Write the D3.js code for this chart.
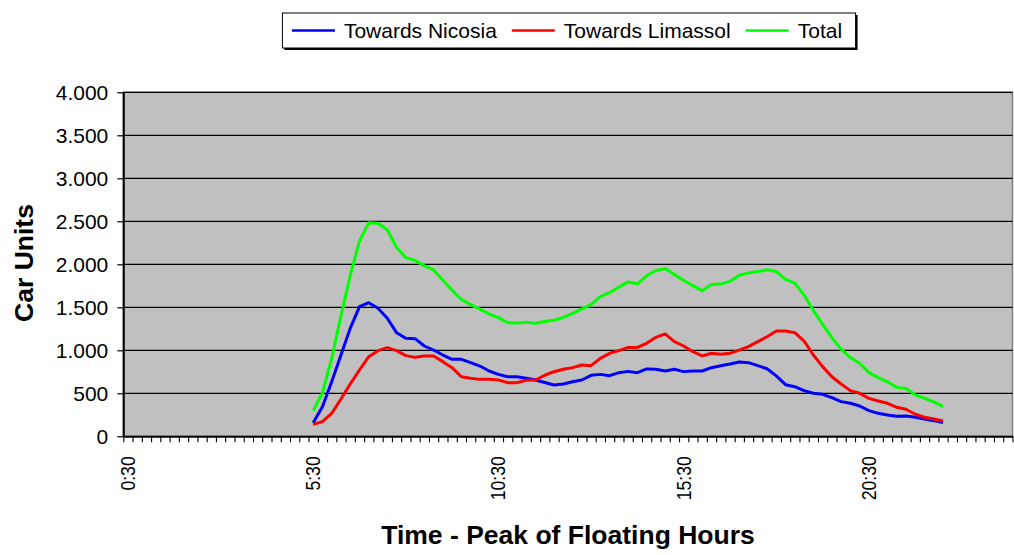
<!DOCTYPE html>
<html>
<head>
<meta charset="utf-8">
<script src="https://cdn.jsdelivr.net/npm/d3@7/dist/d3.min.js"></script>
<style>
  html, body { margin: 0; padding: 0; background: #fff; }
  svg { display: block; font-family: "Liberation Sans", Arial, sans-serif; }
</style>
</head>
<body>
<svg id="chart" width="1014" height="555"></svg>
<script>
// Quarter-hour categories of the day, 0:30 through 24:15
const timeCategories = [];
for (let m = 30; m < 24 * 60 + 30; m += 15) {
  timeCategories.push(Math.floor(m / 60) + ":" + String(m % 60).padStart(2, "0"));
}
const xTickLabels = ["0:30", "5:30", "10:30", "15:30", "20:30"];
const yTickValues = [0, 500, 1000, 1500, 2000, 2500, 3000, 3500, 4000];
const yTickLabels = ["0", "500", "1.000", "1.500", "2.000", "2.500", "3.000", "3.500", "4.000"];

// Measurements run from 5:30 to 22:30 every 15 minutes
const firstSample = "5:30";

const towardsNicosia = [
  158, 344, 635, 945, 1255, 1507, 1554, 1488, 1372, 1205,
  1139, 1135, 1050, 1003, 945, 895, 895, 856, 817, 759,
  720, 693, 693, 674, 655, 625, 596, 608, 635, 655,
  709, 720, 705, 740, 755, 740, 783, 779, 759, 779,
  752, 759, 759, 798, 821, 841, 864, 856, 821, 785,
  703, 600, 577, 531, 500, 488, 449, 403, 384, 352,
  298, 267, 248, 232, 236, 221, 201, 182, 159
];
const towardsLimassol = [
  139, 170, 267, 434, 608, 771, 926, 996, 1031, 996,
  938, 918, 934, 934, 868, 798, 693, 674, 662, 662,
  655, 624, 624, 651, 655, 710, 751, 779, 798, 829,
  821, 906, 965, 996, 1034, 1034, 1081, 1151, 1190, 1101,
  1050, 984, 934, 965, 953, 965, 1003, 1042, 1101, 1158,
  1224, 1224, 1205, 1108, 945, 810, 693, 608, 531, 500,
  441, 411, 384, 337, 314, 256, 221, 202, 178
];
const total = [
  298, 507, 906, 1400, 1870, 2270, 2484, 2478, 2400, 2195,
  2077, 2045, 1982, 1935, 1815, 1698, 1590, 1532, 1478, 1422,
  1380, 1320, 1318, 1325, 1315, 1335, 1350, 1383, 1430, 1482,
  1532, 1624, 1670, 1735, 1795, 1772, 1866, 1928, 1950, 1882,
  1812, 1752, 1693, 1765, 1770, 1802, 1872, 1900, 1916, 1936,
  1916, 1825, 1780, 1642, 1462, 1302, 1148, 1011, 916, 850,
  740, 682, 634, 569, 555, 482, 440, 400, 345
];

const seriesNames = ["Towards Nicosia", "Towards Limassol", "Total"];
const seriesColors = ["#0000ff", "#ff0000", "#00ff00"];
const seriesValues = [towardsNicosia, towardsLimassol, total];

const svg = d3.select("#chart");
const plot = { left: 123.3, right: 1012.5, top: 92.3, bottom: 436.3 };

const x = d3.scaleBand().domain(timeCategories).range([plot.left, plot.right]).padding(0);
const xIndex = d3.scaleLinear().domain([0, timeCategories.length]).range([plot.left, plot.right]);
const y = d3.scaleLinear().domain([0, 4000]).range([plot.bottom, plot.top]);

const startIdx = timeCategories.indexOf(firstSample);
const sampleTimes = timeCategories.slice(startIdx, startIdx + total.length);

// Plot area background
svg.append("rect")
  .attr("x", plot.left).attr("y", plot.top)
  .attr("width", plot.right - plot.left).attr("height", plot.bottom - plot.top)
  .attr("fill", "#c0c0c0").attr("stroke", "#808080").attr("stroke-width", 1.5);

// Horizontal gridlines
svg.append("g").selectAll("line")
  .data(yTickValues.filter(v => v > 0))
  .join("line")
  .attr("x1", plot.left).attr("x2", plot.right)
  .attr("y1", d => y(d)).attr("y2", d => y(d))
  .attr("stroke", "#000").attr("stroke-width", 1.3);

// Y axis
const yAxis = svg.append("g")
  .attr("transform", `translate(${plot.left},0)`)
  .call(d3.axisLeft(y).tickValues(yTickValues)
    .tickFormat((d, i) => yTickLabels[i]).tickSize(6).tickSizeOuter(0).tickPadding(9));
yAxis.select(".domain").attr("stroke", "#000").attr("stroke-width", 2);
yAxis.selectAll(".tick line").attr("stroke", "#000").attr("stroke-width", 1.2);
yAxis.selectAll(".tick text")
  .attr("fill", "#000").style("font-size", "21px")
  .style("font-family", "'Liberation Sans', Arial, sans-serif");

// X axis: tick marks on category boundaries
const xTicks = svg.append("g")
  .attr("transform", `translate(0,${plot.bottom})`)
  .call(d3.axisBottom(xIndex).tickValues(d3.range(timeCategories.length + 1))
    .tickFormat("").tickSize(6).tickSizeOuter(0));
xTicks.select(".domain").attr("stroke", "#000").attr("stroke-width", 2);
xTicks.selectAll(".tick line").attr("stroke", "#000").attr("stroke-width", 1.1);

// X axis: rotated category labels
const xLabels = svg.append("g")
  .attr("transform", `translate(0,${plot.bottom})`)
  .call(d3.axisBottom(x).tickValues(xTickLabels).tickSize(0));
xLabels.select(".domain").remove();
xLabels.selectAll(".tick text")
  .attr("fill", "#000")
  .style("font-size", "20px")
  .style("font-family", "'Liberation Sans', Arial, sans-serif")
  .attr("text-anchor", "end")
  .attr("dy", "0.35em")
  .attr("y", 0)
  .attr("transform", "translate(0,20) rotate(-90) scale(0.88,1)");

// Series lines
const line = d3.line()
  .x((d, i) => x(sampleTimes[i]) + x.bandwidth() / 2)
  .y(d => y(d));

svg.append("g").selectAll("path")
  .data(seriesValues)
  .join("path")
  .attr("d", d => line(d))
  .attr("fill", "none")
  .attr("stroke", (d, i) => seriesColors[i])
  .attr("stroke-width", 3)
  .attr("stroke-linejoin", "round")
  .attr("stroke-linecap", "butt");

// Axis titles
svg.append("text")
  .attr("transform", "translate(33,263) rotate(-90)")
  .attr("text-anchor", "middle")
  .style("font-size", "26.5px").style("font-weight", "bold")
  .text("Car Units");

svg.append("text")
  .attr("x", 568).attr("y", 544)
  .attr("text-anchor", "middle")
  .style("font-size", "26.5px").style("font-weight", "bold")
  .text("Time - Peak of Floating Hours");

// Legend
const legend = svg.append("g");
const legendItems = legend.selectAll("g")
  .data(seriesNames)
  .join("g");
legendItems.append("line")
  .attr("x1", 0).attr("x2", 43).attr("y1", 0).attr("y2", 0)
  .attr("stroke", (d, i) => seriesColors[i]).attr("stroke-width", 2.5);
legendItems.append("text")
  .attr("x", 52).attr("y", 0).attr("dy", "0.36em")
  .style("font-size", "21px")
  .text(d => d);

let cursor = 9;
legendItems.each(function () {
  const g = d3.select(this);
  g.attr("transform", `translate(${cursor},0)`);
  const w = g.select("text").node().getComputedTextLength();
  cursor += 52 + w + 15;
});
const legendWidth = cursor - 15 + 14;
const legendLeft = 569.5 - legendWidth / 2;
const legendTop = 13, legendHeight = 35;
legend.insert("rect", ":first-child")
  .attr("x", -0.5 + 2).attr("y", -legendHeight / 2 + 2)
  .attr("width", legendWidth).attr("height", legendHeight)
  .attr("fill", "#000");
legend.insert("rect", "g")
  .attr("x", -0.5).attr("y", -legendHeight / 2)
  .attr("width", legendWidth).attr("height", legendHeight)
  .attr("fill", "#fff").attr("stroke", "#000").attr("stroke-width", 1);
legend.attr("transform", `translate(${legendLeft},${legendTop + legendHeight / 2})`);
</script>
</body>
</html>
